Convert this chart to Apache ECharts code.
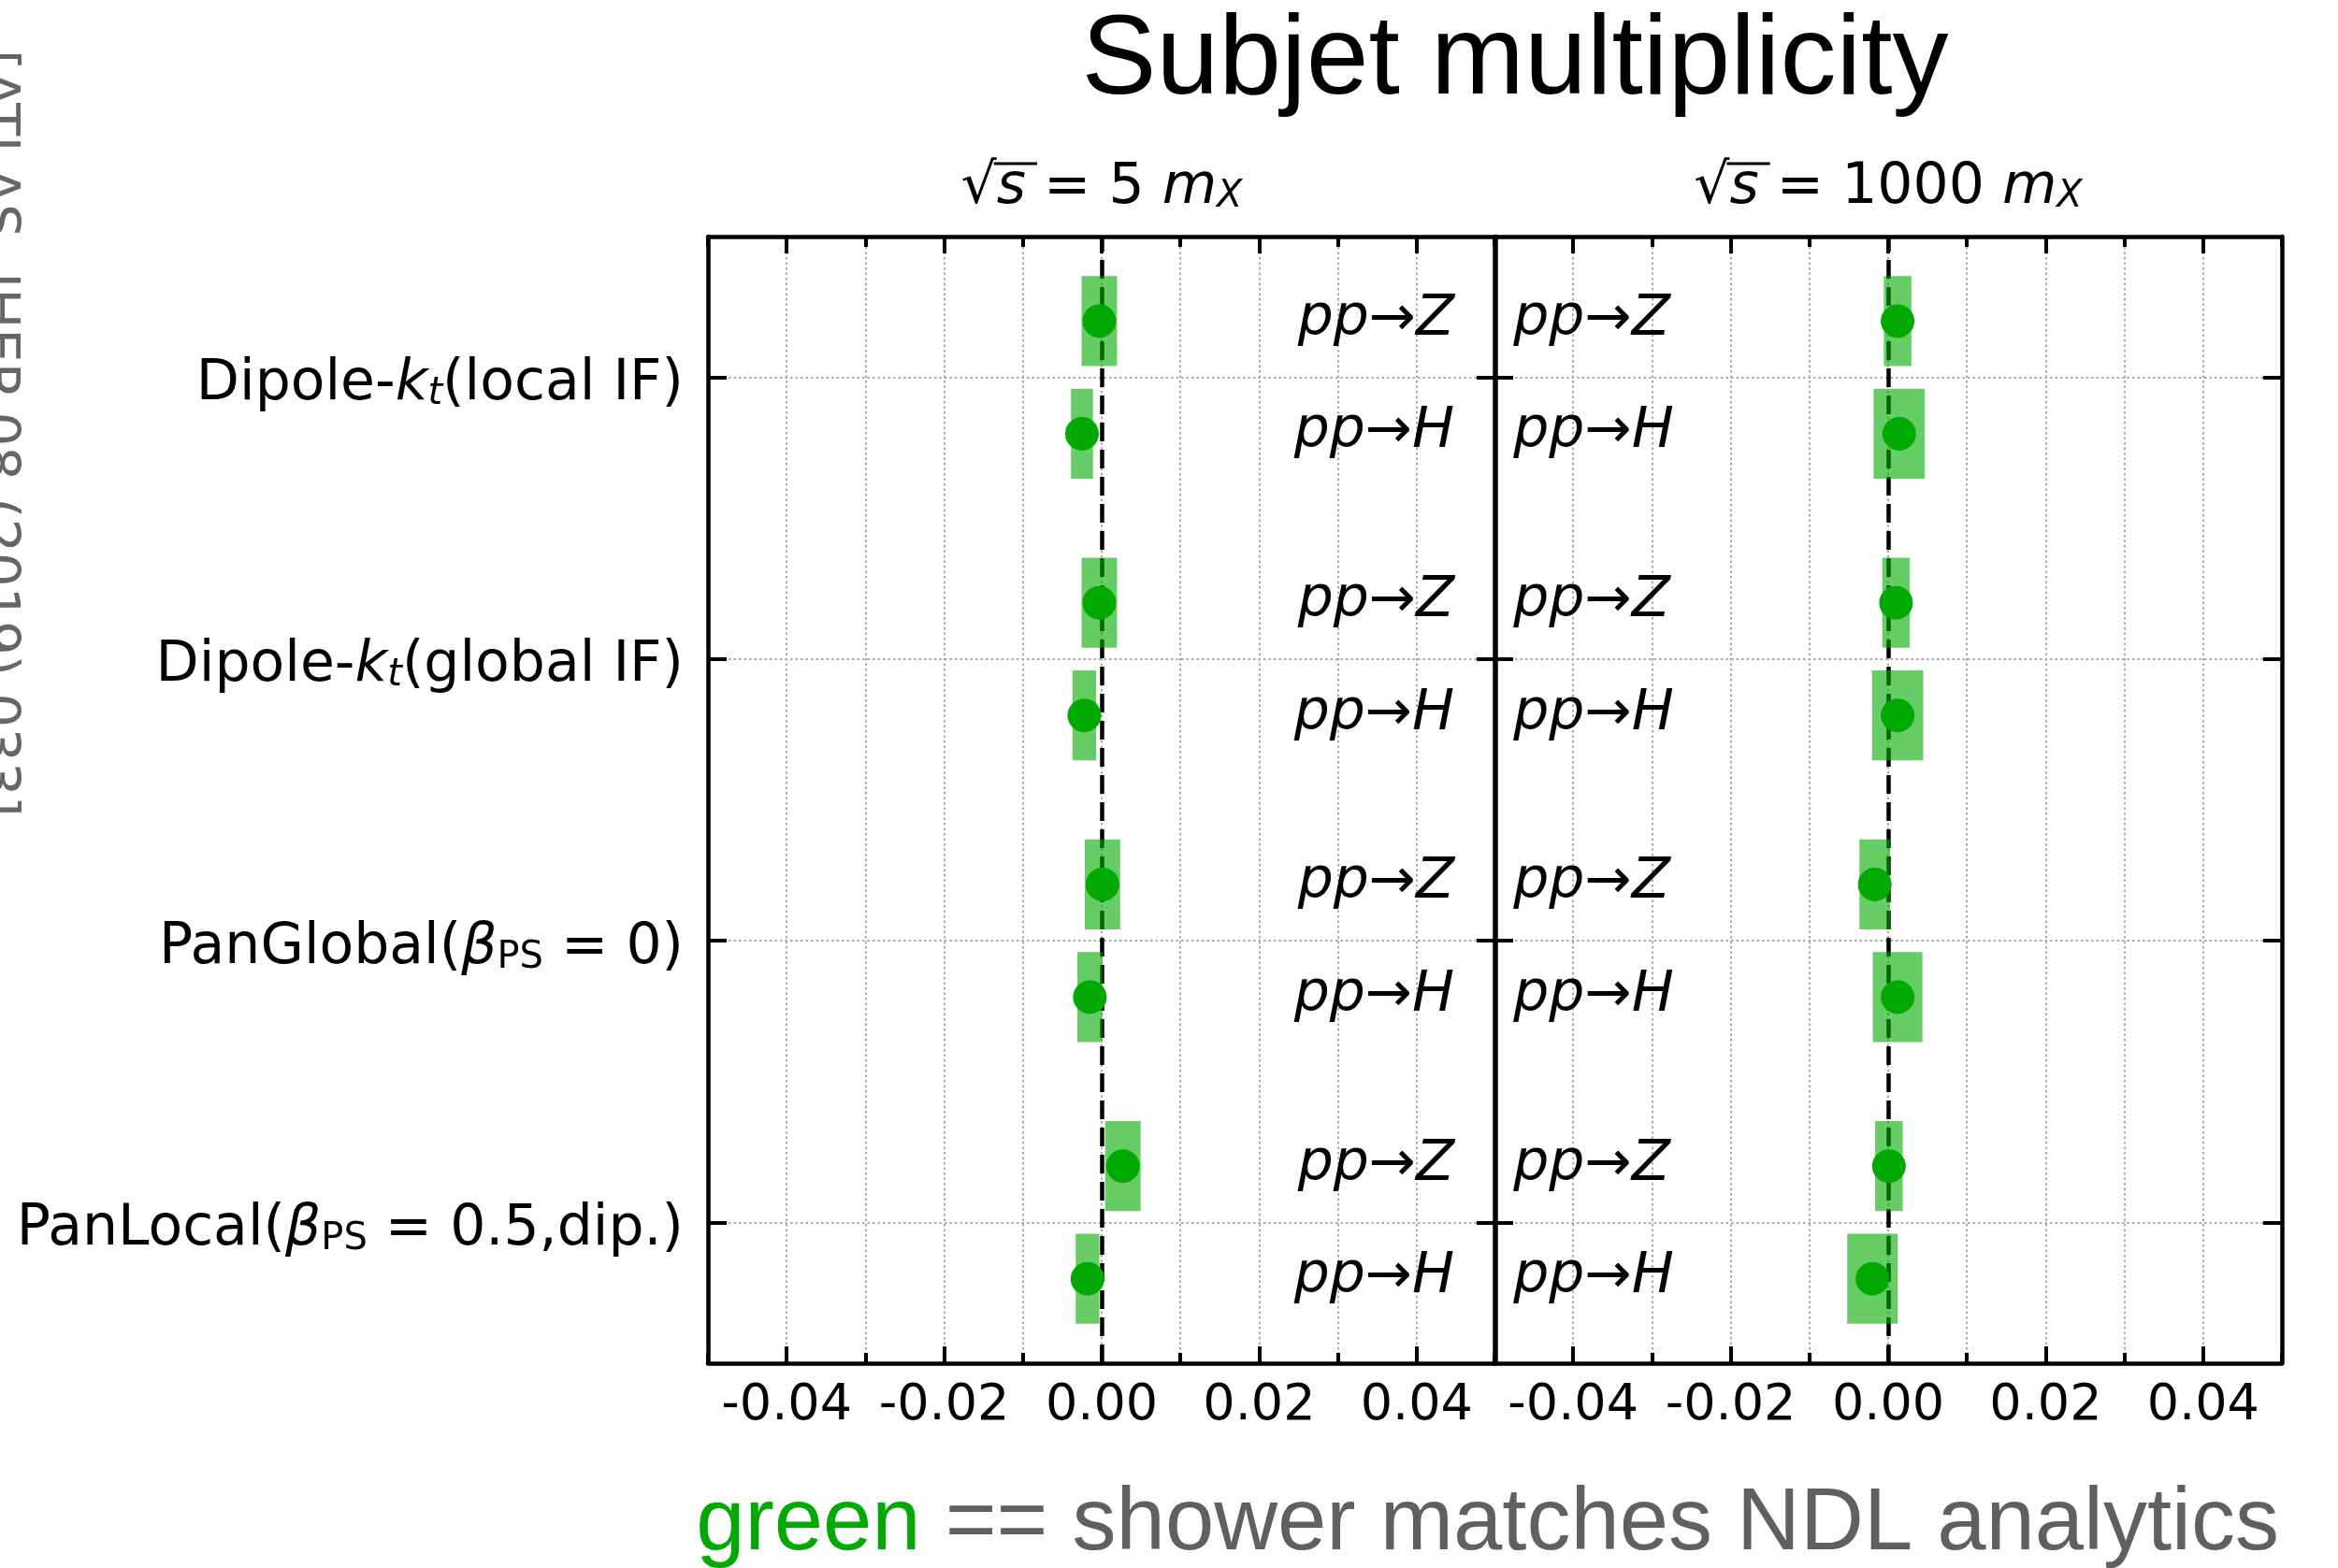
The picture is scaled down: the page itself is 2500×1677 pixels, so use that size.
<!DOCTYPE html>
<html><head><meta charset="utf-8">
<script src="https://cdn.jsdelivr.net/npm/echarts@6/dist/echarts.min.js"></script>
<style>html,body{margin:0;padding:0;background:#fff}#c{width:2500px;height:1677px}</style>
</head><body><div id="c"></div>
<script>
// ---------------- data ----------------
const categories = [               // top to bottom
  '{r|Dipole-}{i|k}{si|t}{r|(local IF)}',
  '{r|Dipole-}{i|k}{si|t}{r|(global IF)}',
  '{r|PanGlobal(}{i|β}{s|PS}{r| = 0)}',
  '{r|PanLocal(}{i|β}{s|PS}{r| = 0.5,dip.)}'
];
const processes = ['{i|pp}{r|→}{i|Z}', '{i|pp}{r|→}{i|H}'];
const panelTitles = ['{r|√}{i|s}{r| = 5 }{i|m}{si|X}', '{r|√}{i|s}{r| = 1000 }{i|m}{si|X}'];
const xTickLabels = [-0.04, -0.02, 0.00, 0.02, 0.04];
const yTicks = [0, 1, 2, 3];
// sqrt(s) = 5 m_X
const lowZ    = [-0.0003, -0.0003, 0.0001, 0.0027];
const lowZerr = [0.00225, 0.00225, 0.00225, 0.00225];
const lowH    = [-0.0025, -0.0022, -0.0015, -0.0018];
const lowHerr = [0.0014, 0.0015, 0.0016, 0.0015];
// sqrt(s) = 1000 m_X
const highZ    = [0.0012, 0.0010, -0.0017, 0.0001];
const highZerr = [0.00175, 0.00175, 0.00195, 0.00175];
const highH    = [0.0014, 0.0012, 0.0012, -0.0020];
const highHerr = [0.00325, 0.00325, 0.00315, 0.0032];
const titleText = 'Subjet multiplicity';
const footGreen = 'green';
const footRest = ' == shower matches NDL analytics';
const sideText = '[ATLAS, JHEP 08 (2019) 033]';

// ---------------- layout / style ----------------
const FONT = 'DejaVu Sans';
const GREEN = '#00aa00';
const BOX = 'rgba(0,170,0,0.6)';
const G = [{left:757, top:253, width:842, height:1205}, {left:1598, top:253, width:842, height:1205}];
const FRAME = {color:'#000', width:4.5};
const TICK = {color:'#000', width:4};
const GRIDLINE = {type:[2.5,3], color:'#aaaaaa', width:2};
const OFF = 0.2, BOXH = 0.32;
const labelAnchor = [0.0448, -0.0476];
const AXZ = 10;

const richLbl = {
  r:{fontSize:60, fontFamily:FONT, color:'#000', opacity:1, textBorderWidth:0, lineHeight:60},
  i:{fontSize:60, fontFamily:FONT, fontStyle:'italic', color:'#000', opacity:1, textBorderWidth:0, lineHeight:60},
  si:{fontSize:40, fontFamily:FONT, fontStyle:'italic', color:'#000', textBorderWidth:0, verticalAlign:'bottom', lineHeight:30},
  s:{fontSize:40, fontFamily:FONT, color:'#000', textBorderWidth:0, verticalAlign:'bottom', lineHeight:30}
};

const xAxes = [], yAxes = [];
G.forEach((g, i) => {
  const xb = {gridIndex:i, type:'value', min:-0.05, max:0.05, interval:0.01};
  // grid lines only (lowest)
  xAxes.push(Object.assign({}, xb, {position:'bottom', z:0,
    axisLine:{show:false, onZero:false}, axisTick:{show:false}, axisLabel:{show:false},
    splitLine:{show:true, lineStyle:GRIDLINE}}));
  xAxes.push(Object.assign({}, xb, {position:'bottom', z:AXZ,
    axisLine:{show:true, onZero:false, lineStyle:FRAME},
    axisTick:{show:true, inside:true, length:11, lineStyle:TICK},
    axisLabel:{show:true, customValues:xTickLabels, formatter:v => v.toFixed(2), fontSize:54, fontFamily:FONT, color:'#000', margin:19},
    splitLine:{show:false}}));
  xAxes.push(Object.assign({}, xb, {position:'bottom', z:AXZ,
    axisLine:{show:false, onZero:false},
    axisTick:{show:true, inside:true, length:18, customValues:xTickLabels, lineStyle:TICK},
    axisLabel:{show:false}, splitLine:{show:false}}));
  xAxes.push(Object.assign({}, xb, {position:'top', z:AXZ,
    axisLine:{show:true, onZero:false, lineStyle:FRAME},
    axisTick:{show:true, inside:true, length:11, lineStyle:TICK},
    axisLabel:{show:false}, splitLine:{show:false}}));
  xAxes.push(Object.assign({}, xb, {position:'top', z:AXZ,
    axisLine:{show:false, onZero:false},
    axisTick:{show:true, inside:true, length:18, customValues:xTickLabels, lineStyle:TICK},
    axisLabel:{show:false}, splitLine:{show:false}}));
  const yb = {gridIndex:i, type:'value', min:-0.5, max:3.5, z:AXZ};
  yAxes.push(Object.assign({}, yb, {position:'left',
    axisLine:{show:true, onZero:false, lineStyle:FRAME},
    axisTick:{show:true, inside:true, length:20, customValues:yTicks, lineStyle:TICK},
    axisLabel:{show:i === 0, customValues:yTicks, margin:26, padding:[16,0,0,0],
      formatter:v => categories[categories.length - 1 - Math.round(v)], rich:richLbl},
    splitLine:{show:false}}));
  yAxes.push(Object.assign({}, yb, {position:'right',
    axisLine:{show:true, onZero:false, lineStyle:FRAME},
    axisTick:{show:true, inside:true, length:20, customValues:yTicks, lineStyle:TICK},
    axisLabel:{show:false}, splitLine:{show:false}}));
});

const panels = [[lowZ, lowZerr, lowH, lowHerr], [highZ, highZerr, highH, highHerr]];
const series = [];
panels.forEach((pd, i) => {
  const [Z, Ze, H, He] = pd;
  const n = categories.length;
  const pts = [], boxes = [], lbls = [];
  categories.forEach((c, g) => {
    const y = n - 1 - g;
    pts.push([Z[g], y + OFF]); pts.push([H[g], y - OFF]);
    boxes.push([Z[g], y + OFF, Ze[g]]); boxes.push([H[g], y - OFF, He[g]]);
    lbls.push([labelAnchor[i], y + OFF, processes[0]]);
    lbls.push([labelAnchor[i], y - OFF, processes[1]]);
  });
  const xi = 5 * i, yi = 2 * i;
  series.push({
    type:'custom', xAxisIndex:xi, yAxisIndex:yi, z:3, silent:true,
    data:boxes, encode:{x:0, y:1},
    renderItem:(params, api) => {
      const v = api.value(0), y = api.value(1), e = api.value(2);
      const a = api.coord([v - e, y + BOXH / 2]);
      const b = api.coord([v + e, y - BOXH / 2]);
      return {type:'rect', shape:{x:a[0], y:a[1], width:b[0] - a[0], height:b[1] - a[1]}, style:{fill:BOX}};
    }
  });
  series.push({
    type:'scatter', xAxisIndex:xi, yAxisIndex:yi, z:4, silent:true,
    data:pts, symbol:'circle', symbolSize:36, itemStyle:{color:GREEN, opacity:1},
    markLine:{silent:true, z:2, symbol:['none','none'], label:{show:false},
      data: yTicks.map(t => ({yAxis:t, lineStyle:GRIDLINE})).concat([{xAxis:0, lineStyle:{color:'#000', width:4.5, type:[20,9]}}])}
  });
  series.push({
    type:'scatter', xAxisIndex:xi, yAxisIndex:yi, z:5, silent:true,
    data:lbls, symbolSize:0.1, itemStyle:{color:'#000', opacity:1},
    label:{show:true, position:'inside', align: i === 0 ? 'right' : 'left', verticalAlign:'middle',
      color:'#000', opacity:1, textBorderWidth:0, textBorderColor:'transparent',
      offset:[0,-1], formatter:p => p.data[2], rich:richLbl}
  });
});

// measuring for sqrt overline
const ctx = document.createElement('canvas').getContext('2d');
function tw(t, f){ ctx.font = f; return ctx.measureText(t).width; }
const fR = '60px "DejaVu Sans"', fI = 'italic 60px "DejaVu Sans"', fSI = 'italic 40px "DejaVu Sans"';
const subs = ['5', '1000'];
const graphic = [];
const richG = {
  r:{fontSize:60, fontFamily:FONT, fill:'#000', lineHeight:60},
  i:{fontSize:60, fontFamily:FONT, fontStyle:'italic', fill:'#000', lineHeight:60},
  si:{fontSize:40, fontFamily:FONT, fontStyle:'italic', fill:'#000', verticalAlign:'bottom', lineHeight:30}
};
G.forEach((g, i) => {
  const cx = g.left + g.width / 2, cy = 201;
  graphic.push({type:'text', x:cx, y:cy, style:{text:panelTitles[i], align:'center', verticalAlign:'middle', rich:richG, fontSize:60, fontFamily:FONT}});
  const wSq = tw('√', fR), wS = tw('s', fI);
  const total = wSq + wS + tw(' = ' + subs[i] + ' ', fR) + tw('m', fI) + tw('X', fSI);
  const left = cx - total / 2;
  graphic.push({type:'line', shape:{x1:left + wSq - 3, y1:cy - 26, x2:left + wSq + wS + 12, y2:cy - 26}, style:{stroke:'#000', lineWidth:3}});
});
graphic.push({type:'text', x:1620, y:67, style:{text:titleText, fontSize:120, fontFamily:'Liberation Sans', fill:'#000', align:'center', verticalAlign:'middle'}});
graphic.push({type:'text', x:2437, y:1631, style:{
  text:'{g|' + footGreen + '}{t|' + footRest + '}', align:'right', verticalAlign:'middle',
  fontSize:94, fontFamily:'Liberation Sans',
  rich:{g:{fontSize:94, fontFamily:'Liberation Sans', fill:GREEN, lineHeight:94},
        t:{fontSize:94, fontFamily:'Liberation Sans', fill:'#606060', lineHeight:94}}}});
graphic.push({type:'text', x:-5, y:53, rotation:-Math.PI / 2, style:{text:sideText, fontSize:57.5, fontFamily:FONT, fill:'#666666', align:'left', verticalAlign:'middle'}});

const chart = echarts.init(document.getElementById('c'), null, {renderer:'canvas', width:2500, height:1677});
chart.setOption({
  animation:false,
  backgroundColor:'#fff',
  textStyle:{fontFamily:FONT},
  grid:G.map(g => Object.assign({outerBoundsMode:'none', containLabel:false}, g)),
  xAxis:xAxes, yAxis:yAxes, series:series, graphic:graphic
});
</script></body></html>
